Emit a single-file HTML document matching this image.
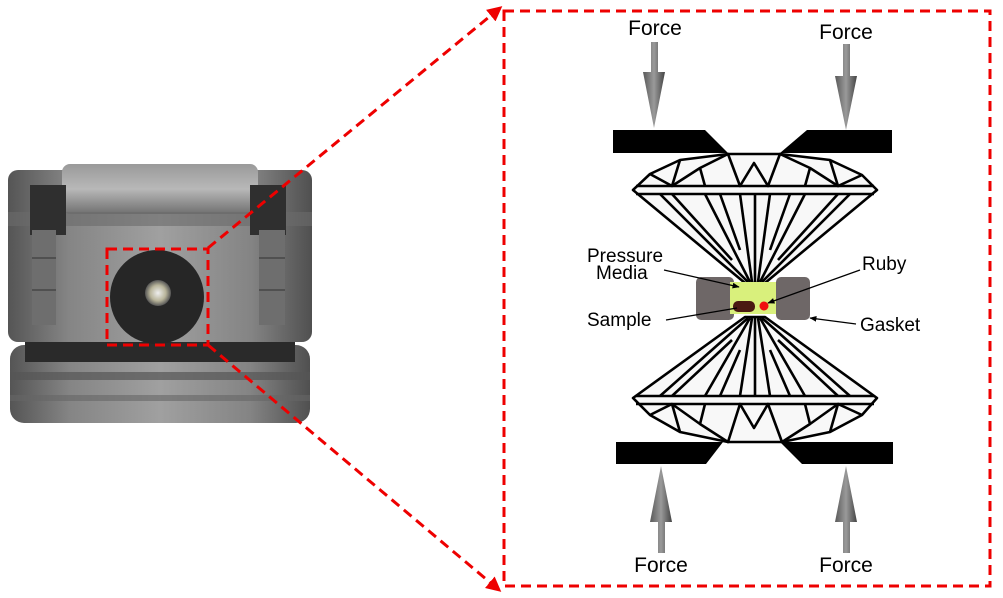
<!DOCTYPE html>
<html><head><meta charset="utf-8"><style>
html,body{margin:0;padding:0;background:#fff;}
svg{display:block;}
text{font-family:"Liberation Sans",Arial,sans-serif;fill:#000;}
</style></head><body>
<svg width="1003" height="598" viewBox="0 0 1003 598" xmlns="http://www.w3.org/2000/svg">
<defs>
<linearGradient id="arr" x1="0" x2="1" y1="0" y2="0">
<stop offset="0" stop-color="#5a5a5a"/><stop offset="0.5" stop-color="#9a9a9a"/><stop offset="1" stop-color="#444"/>
</linearGradient>
<linearGradient id="metal" x1="0" x2="1" y1="0" y2="0">
<stop offset="0" stop-color="#555"/><stop offset="0.2" stop-color="#858585"/><stop offset="0.5" stop-color="#a0a0a0"/><stop offset="0.8" stop-color="#848484"/><stop offset="1" stop-color="#505050"/>
</linearGradient>
<linearGradient id="metalv" x1="0" x2="0" y1="0" y2="1">
<stop offset="0" stop-color="#9a9a9a"/><stop offset="0.5" stop-color="#b8b8b8"/><stop offset="1" stop-color="#707070"/>
</linearGradient>
<radialGradient id="screw"><stop offset="0" stop-color="#eee"/><stop offset="0.6" stop-color="#b8b49a"/><stop offset="1" stop-color="#555"/></radialGradient>
<marker id="rh" viewBox="0 0 10 10" refX="8" refY="5" markerWidth="5" markerHeight="5" orient="auto"><path d="M0,0 L10,5 L0,10 z" fill="#e00"/></marker>
<marker id="bh" viewBox="0 0 10 10" refX="9" refY="5" markerWidth="6" markerHeight="6" orient="auto"><path d="M0,1 L10,5 L0,9 z" fill="#000"/></marker>
</defs>

<!-- photo device -->
<g>
<rect x="10" y="345" width="300" height="78" rx="14" fill="url(#metal)"/>
<rect x="10" y="372" width="300" height="8" fill="#555" opacity="0.7"/>
<rect x="10" y="395" width="300" height="6" fill="#666" opacity="0.6"/>
<rect x="25" y="342" width="270" height="20" fill="#2a2a2a"/>
<rect x="8" y="170" width="304" height="172" rx="10" fill="url(#metal)"/>
<rect x="62" y="164" width="196" height="50" rx="8" fill="url(#metalv)"/>
<rect x="8" y="212" width="304" height="14" fill="#6a6a6a" opacity="0.6"/>
<rect x="30" y="185" width="36" height="50" fill="#2f2f2f"/>
<rect x="250" y="185" width="36" height="50" fill="#2f2f2f"/>
<rect x="32" y="230" width="24" height="95" fill="#6e6e6e"/>
<rect x="259" y="230" width="26" height="95" fill="#6e6e6e"/>
<g stroke="#333" stroke-width="1">
<line x1="32" y1="258" x2="56" y2="258"/><line x1="32" y1="290" x2="56" y2="290"/>
<line x1="259" y1="258" x2="285" y2="258"/><line x1="259" y1="290" x2="285" y2="290"/>
</g>
<circle cx="157" cy="297" r="47" fill="#262626"/>
<circle cx="158" cy="293" r="13" fill="url(#screw)"/>
</g>
<rect x="107" y="249" width="101" height="96" fill="none" stroke="#e00" stroke-width="3" stroke-dasharray="10,6"/>
<line x1="208" y1="248" x2="500" y2="8" stroke="#e00" stroke-width="3" stroke-dasharray="10,6" marker-end="url(#rh)"/>
<line x1="208" y1="345" x2="499" y2="590" stroke="#e00" stroke-width="3" stroke-dasharray="10,6" marker-end="url(#rh)"/>
<rect x="504" y="11" width="486" height="575" fill="none" stroke="#e00" stroke-width="3" stroke-dasharray="10,6"/>

<!-- force arrows top -->
<text x="655" y="35" font-size="21" text-anchor="middle">Force</text>
<text x="846" y="39" font-size="21" text-anchor="middle">Force</text>
<path d="M651,42 h7 v30 h7 l-11,56 l-11,-56 h8 z" fill="url(#arr)"/>
<path d="M843,44 h7 v32 h7 l-11,54 l-11,-54 h8 z" fill="url(#arr)"/>
<!-- bottom -->
<path d="M661,466 l11,56 h-7 v31 h-7 v-31 h-8 z" fill="url(#arr)"/>
<path d="M846,466 l11,56 h-7 v31 h-7 v-31 h-8 z" fill="url(#arr)"/>
<text x="661" y="572" font-size="21" text-anchor="middle">Force</text>
<text x="846" y="572" font-size="21" text-anchor="middle">Force</text>

<!-- plates -->
<polygon points="613,130 705,130 728,153 613,153" fill="#000"/>
<polygon points="807,130 892,130 892,153 780,153" fill="#000"/>
<polygon points="616,442 723,442 706,464 616,464" fill="#000"/>
<polygon points="780,442 893,442 893,464 802,464" fill="#000"/>

<!-- top diamond -->
<g stroke="#000" stroke-width="2.6" fill="#f8f8f8" stroke-linejoin="round">
<polygon points="728,154 780,154 830,160 862,175 877,190 765,283 745,283 633,190 650,174 680,160"/>
<g fill="none">
<line x1="636" y1="186" x2="874" y2="186"/><line x1="636" y1="194" x2="874" y2="194"/>
<polyline points="680,160 672,186 700,168 728,154 740,186 754,163 768,186 780,154 810,168 838,186 830,160"/>
<polyline points="650,174 672,186"/><polyline points="862,175 838,186"/>
<polyline points="700,168 705,186"/><polyline points="810,168 805,186"/>
<line x1="660" y1="194" x2="748" y2="282"/>
<line x1="672" y1="194" x2="732" y2="260"/>
<line x1="705" y1="194" x2="750" y2="282"/>
<line x1="720" y1="194" x2="740" y2="250"/>
<line x1="740" y1="194" x2="752" y2="282"/>
<line x1="755" y1="194" x2="755" y2="282"/>
<line x1="770" y1="194" x2="758" y2="282"/>
<line x1="790" y1="194" x2="770" y2="250"/>
<line x1="805" y1="194" x2="760" y2="282"/>
<line x1="838" y1="194" x2="778" y2="260"/>
<line x1="850" y1="194" x2="762" y2="282"/>
</g>
</g>

<!-- bottom diamond -->
<g stroke="#000" stroke-width="2.6" fill="#f8f8f8" stroke-linejoin="round">
<polygon points="745,317 765,317 877,398 862,415 830,432 782,442 728,442 680,432 650,415 633,398"/>
<g fill="none">
<line x1="636" y1="396" x2="874" y2="396"/><line x1="636" y1="404" x2="874" y2="404"/>
<polyline points="680,432 672,404 700,424 728,442 740,404 754,428 768,404 782,442 810,424 838,404 830,432"/>
<polyline points="650,415 672,404"/><polyline points="862,415 838,404"/>
<polyline points="700,424 705,404"/><polyline points="810,424 805,404"/>
<line x1="660" y1="396" x2="748" y2="318"/>
<line x1="672" y1="396" x2="732" y2="340"/>
<line x1="705" y1="396" x2="750" y2="318"/>
<line x1="720" y1="396" x2="740" y2="350"/>
<line x1="740" y1="396" x2="752" y2="318"/>
<line x1="755" y1="396" x2="755" y2="318"/>
<line x1="770" y1="396" x2="758" y2="318"/>
<line x1="790" y1="396" x2="770" y2="350"/>
<line x1="805" y1="396" x2="760" y2="318"/>
<line x1="838" y1="396" x2="778" y2="340"/>
<line x1="850" y1="396" x2="762" y2="318"/>
</g>
</g>

<!-- gasket -->
<rect x="696" y="277" width="38" height="43" rx="5" fill="#6e6767"/>
<rect x="776" y="277" width="34" height="43" rx="5" fill="#6e6767"/>
<rect x="730" y="282" width="46" height="32" fill="#d9f07c"/>
<rect x="733" y="301" width="22" height="11" rx="5" fill="#4a1a12"/>
<circle cx="764" cy="306" r="4.5" fill="#f01010"/>

<!-- labels -->
<text x="587" y="262" font-size="19">Pressure</text>
<text x="596" y="279" font-size="19">Media</text>
<text x="862" y="270" font-size="19">Ruby</text>
<text x="587" y="326" font-size="19">Sample</text>
<text x="860" y="331" font-size="19">Gasket</text>
<g stroke="#000" stroke-width="1.2">
<line x1="664" y1="270" x2="739" y2="287" marker-end="url(#bh)"/>
<line x1="860" y1="270" x2="768" y2="303" marker-end="url(#bh)"/>
<line x1="666" y1="320" x2="737" y2="308"/>
<line x1="856" y1="324" x2="810" y2="318" marker-end="url(#bh)"/>
</g>
</svg>
</body></html>
